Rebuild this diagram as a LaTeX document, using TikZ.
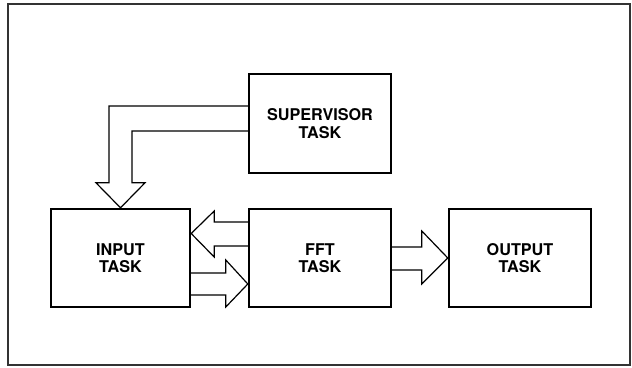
\documentclass[tikz,border=0pt]{standalone}
\usepackage{fontspec}
\setsansfont{TeX Gyre Heros}
\usepackage{tikz}
\usetikzlibrary{calc}

\begin{document}
\begin{tikzpicture}[
  x=1pt, y=-1pt,
  box/.style={draw, line width=2.4pt, minimum width=142pt, minimum height=98pt, align=center,
    font=\sffamily\bfseries\fontsize{16.2}{17.5}\selectfont, inner sep=0pt},
  blockarrow/.style={draw, line width=1.2pt, line join=miter},
  frame/.style={draw=black!80, line width=1.4pt}
]
\useasboundingbox (0,0) rectangle (632,367);
\draw[frame] (8,4) rectangle (630,365);
\node[box, minimum height=99pt] (super) at (320,123.5) {SUPERVISOR\\TASK};
\node[box, minimum width=139pt] (input) at (120.5,258) {INPUT\\TASK};
\node[box] (fft) at (320,258) {FFT\\TASK};
\node[box] (output) at (520,258) {OUTPUT\\TASK};
% supervisor to input
\draw[blockarrow] ($(super.west)+(0,-17.5)$) -| ($(input.north)+(-11.5,-25)$) -- ($(input.north)+(-24.5,-25)$)
  -- (input.north) -- ($(input.north)+(24.5,-25)$) -- ($(input.north)+(11.5,-25)$) |- ($(super.west)+(0,7.5)$);
% fft back to input
\draw[blockarrow] ($(fft.west)+(0,-36)$) -| ($(input.east)+(23,-47)$) -- ($(input.east)+(0,-24.5)$)
  -- ($(input.east)+(23,-1)$) |- ($(fft.west)+(0,-12)$);
% input to fft
\draw[blockarrow] ($(input.east)+(0,15)$) -| ($(fft.west)+(-22,2)$) -- ($(fft.west)+(0,26)$)
  -- ($(fft.west)+(-22,49)$) |- ($(input.east)+(0,37)$);
% fft to output
\draw[blockarrow] ($(fft.east)+(0,-11)$) -| ($(output.west)+(-26,-27)$) -- (output.west)
  -- ($(output.west)+(-26,26)$) |- ($(fft.east)+(0,12)$);
\end{tikzpicture}
\end{document}
